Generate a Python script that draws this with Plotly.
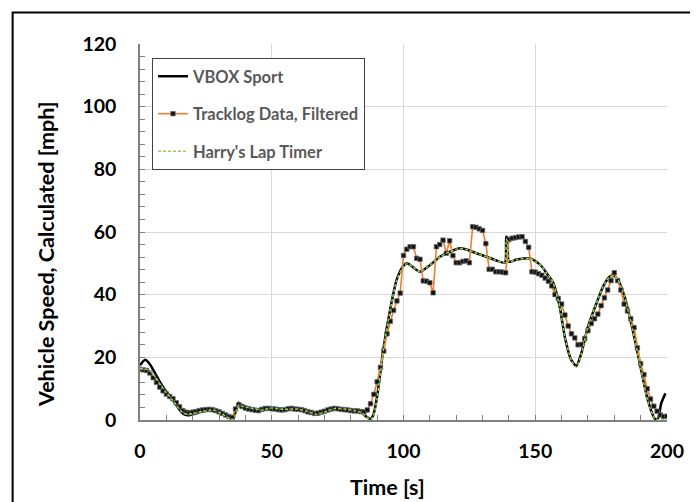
import plotly.graph_objects as go

# ---------------- data ----------------
TRACK_DT = 1.25  # s between Tracklog samples
tracklog_speed = [
    16.2, 16.0, 15.8, 15.0, 13.5, 12.0, 10.5, 9.3, 8.3, 7.5,
    6.8, 5.5, 4.2, 3.0, 2.5, 2.3, 2.5, 2.7, 3.0, 3.2,
    3.3, 3.4, 3.3, 3.0, 2.6, 2.1, 1.6, 1.1, 0.8, 3.5,
    4.8, 4.3, 3.8, 3.5, 3.3, 3.1, 3.0, 3.4, 3.7, 3.7,
    3.6, 3.5, 3.3, 3.2, 3.3, 3.6, 3.7, 3.5, 3.4, 3.3,
    3.0, 2.6, 2.4, 2.1, 2.2, 2.5, 2.8, 3.2, 3.5, 3.7,
    3.6, 3.4, 3.3, 3.2, 3.0, 2.9, 2.9, 2.7, 2.6, 3.2,
    5.2, 8.2, 12.2, 16.8, 22.0, 27.5, 31.5, 35.0, 38.0, 40.5,
    52.5, 54.5, 55.3, 55.3, 51.6, 51.3, 44.4, 44.3, 43.8, 40.6,
    55.3, 56.0, 57.4, 53.2, 57.2, 52.5, 50.2, 50.2, 50.6, 50.8,
    50.2, 61.7, 61.5, 61.0, 60.5, 56.3, 48.1, 48.1, 47.3, 47.3,
    47.2, 47.0, 57.6, 58.0, 58.2, 58.4, 58.5, 57.0, 55.1, 47.3,
    47.2, 46.7, 46.2, 45.3, 44.3, 42.8, 40.0, 38.8, 37.0, 33.5,
    30.0, 27.5, 26.2, 24.0, 24.1, 26.0, 28.5, 30.8, 32.3, 33.8,
    36.5, 39.0, 41.5, 44.5, 47.0, 44.5, 41.5, 37.0, 34.8, 32.3,
    29.5, 23.0, 18.0, 14.5, 10.0, 6.7, 4.4, 2.8, 1.6, 1.1,
    1.2,
]
tracklog_time = [i * TRACK_DT for i in range(len(tracklog_speed))]

vbox_time = [0, 2, 4, 6, 8, 10, 12, 14, 16, 18, 20, 24, 28, 31, 34, 35.5, 37.3, 39, 42, 46,
             50, 55, 60, 64, 67, 70, 74, 80, 84, 86, 87.5, 88.5, 90, 92.3, 94.9, 97.4, 99.7, 101.4,
             103.7, 106.2, 110, 113.8, 117.6, 121.4, 123.9, 127.7, 131.5, 135, 138.5, 139.0, 139.5,
             140, 143, 148, 150.4, 152.5, 154.2, 156.7, 159.3, 161.2, 163.7, 165.6, 167.5, 170,
             173.2, 175.7, 178.2, 179.5, 181.4, 183.9, 187, 190.2, 192.7, 195.3, 196.5, 197.8, 199.4]
vbox_speed = [17.5, 19.2, 17.5, 14.5, 11.5, 9.0, 7.0, 4.5, 2.2, 1.5, 1.8, 2.8, 3.2, 2.2, 0.8, 0.5, 5.5, 4.5, 3.8, 3.2,
              3.8, 3.4, 3.5, 2.6, 1.8, 2.5, 3.7, 3.2, 2.4, 1.0, 0.3, 1.5, 7.5, 22.3, 35.1, 44.7, 48.9, 50.0,
              48.7, 47.3, 49.4, 52.1, 53.7, 54.8, 54.4, 53.2, 52.1, 51.0, 50.2, 58.5, 58.0,
              50.5, 51.2, 51.6, 50.5, 49.0, 47.0, 44.0, 36.1, 26.6, 19.1, 17.2, 21.3, 29.8,
              37.2, 42.5, 45.7, 46.2, 44.7, 39.3, 28.7, 16.0, 6.4, 0.5, 0.3, 5.3, 8.5]

harry_time = [0, 2, 4, 6, 8, 10, 12, 14, 16, 18, 20, 24, 28, 31, 34, 35.5, 37.5, 39, 42, 46,
              50, 55, 60, 64, 67, 70, 74, 80, 84, 86, 87.5, 88.5, 90, 92.3, 94.9, 97.4, 99.7, 101.4,
              103.7, 106.2, 110, 113.8, 117.6, 121.4, 123.9, 127.7, 131.5, 135, 138.5, 139.0, 139.5,
              140, 143, 148, 150.4, 152.5, 154.2, 156.7, 159.3, 161.2, 163.7, 165.6, 167.5, 170,
              173.2, 175.7, 178.2, 179.5, 181.4, 183.9, 187, 190.2, 192.7, 195.3, 197, 200]
harry_speed = [16.5, 16.3, 15.5, 13.5, 11.0, 8.7, 6.8, 4.5, 2.5, 1.8, 2.0, 2.8, 3.2, 2.0, 0.5, 0.2, 4.8, 4.3, 3.8, 3.2,
               3.8, 3.4, 3.5, 2.6, 1.8, 2.5, 3.7, 3.2, 2.4, 1.0, 0.2, 1.2, 7.0, 22.0, 35.0, 44.5, 48.7, 50.0,
               48.7, 47.3, 49.4, 52.1, 53.7, 54.8, 54.4, 53.2, 52.1, 51.0, 50.2, 57.5, 57.0,
               50.5, 51.2, 51.6, 50.5, 49.0, 47.0, 44.0, 36.1, 26.6, 19.1, 16.8, 21.0, 29.8,
               37.2, 42.5, 45.7, 46.0, 44.7, 39.3, 28.7, 16.0, 6.0, 0.5, 0.1, 0.3]

x_ticks = [0, 50, 100, 150, 200]
y_ticks = [0, 20, 40, 60, 80, 100, 120]

FONT = "Lato, 'Open Sans', sans-serif"

fig = go.Figure()
fig.add_trace(go.Scatter(
    x=vbox_time, y=vbox_speed, name="VBOX Sport", mode="lines",
    line=dict(color="#000000", width=2.5, shape="spline", smoothing=0.6),
    legendgroup="a"))
fig.add_trace(go.Scatter(
    x=tracklog_time, y=tracklog_speed, name="Tracklog Data, Filtered", mode="lines+markers",
    line=dict(color="#ED7D31", width=1.6),
    marker=dict(symbol="square", size=4.5, color="#111111",
                line=dict(color="rgba(110,110,110,0.75)", width=1)),
    legendgroup="b"))
fig.add_trace(go.Scatter(
    x=harry_time, y=harry_speed, name="Harry's Lap Timer", mode="lines",
    line=dict(color="#92D050", width=1.5, dash="3px,2px", shape="spline", smoothing=0.6),
    legendgroup="c"))

axis_common = dict(
    showline=True, linecolor="#7f7f7f", linewidth=1.5,
    ticks="inside", ticklen=5, tickcolor="#7f7f7f", tickwidth=1,
    showgrid=True, gridcolor="#d9d9d9", gridwidth=1,
    zeroline=False,
    tickfont=dict(family=FONT, size=19.5, color="#000000", weight="bold"),
)

fig.update_xaxes(range=[0, 200], tickvals=x_ticks, ticktext=[str(v) for v in x_ticks],
                 minor=dict(dtick=10, tick0=0, ticks="inside", ticklen=5, tickcolor="#7f7f7f", showgrid=False),
                 ticklabelstandoff=13, **axis_common)
fig.update_yaxes(range=[0, 120], tickvals=y_ticks, ticktext=[str(v) for v in y_ticks],
                 minor=dict(dtick=4, tick0=0, ticks="inside", ticklen=5, tickcolor="#7f7f7f", showgrid=False),
                 ticklabelstandoff=18, **axis_common)

# page offset of the plot div (browser body margin)
OFF = 8
W, H = 698 - OFF, 502 - OFF
# plot-area edges in page pixels
PL, PR, PT, PB = 140, 667.5, 44, 420
L, R, T, B = PL - OFF, W - (PR - OFF), PT - OFF, H - (PB - OFF)
pw, ph = W - L - R, H - T - B

def px_x(p):
    return (p - OFF - L) / pw

def px_y(p):
    return (PB - p) / ph

TITLE_FONT = dict(family=FONT, size=21.5, color="#000000", weight="bold")

fig.update_layout(
    width=W, height=H,
    margin=dict(l=L, r=R, t=T, b=B, autoexpand=False),
    paper_bgcolor="white", plot_bgcolor="white",
    showlegend=True,
    legend=dict(x=px_x(152), y=px_y(58), xanchor="left", yanchor="top",
                bgcolor="white", bordercolor="#404040", borderwidth=1,
                font=dict(family=FONT, size=16.5, color="#595959", weight="bold"),
                traceorder="grouped", tracegroupgap=13, itemwidth=30),
    annotations=[
        dict(text="Time [s]", xref="paper", yref="paper", x=px_x(388), y=px_y(487),
             xanchor="center", yanchor="middle", showarrow=False, font=TITLE_FONT),
        dict(text="Vehicle Speed, Calculated [mph]", xref="paper", yref="paper",
             x=px_x(46), y=px_y(254), textangle=-90, xanchor="center", yanchor="middle",
             showarrow=False, font=TITLE_FONT),
    ],
    shapes=[
        dict(type="rect", xref="paper", yref="paper",
             x0=px_x(12.5), x1=px_x(692.5), y0=px_y(520), y1=px_y(12.5),
             line=dict(color="#000000", width=2), fillcolor="rgba(0,0,0,0)", layer="above"),
    ],
)

fig.write_html("out.html")
